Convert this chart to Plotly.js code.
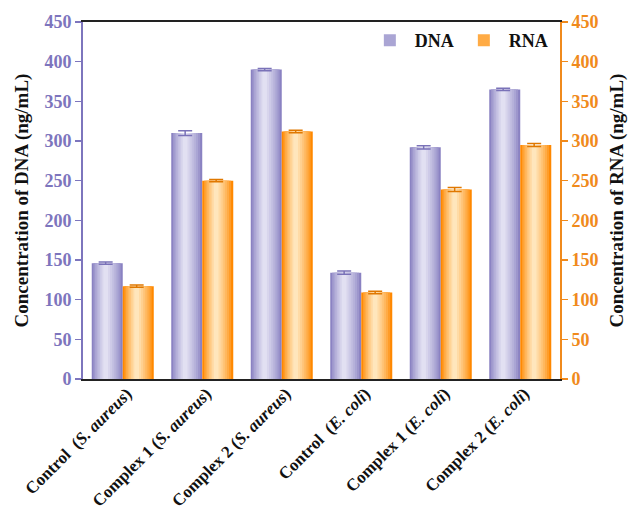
<!DOCTYPE html>
<html>
<head>
<meta charset="utf-8">
<script src="https://cdn.plot.ly/plotly-3.0.1.min.js"></script>
<style>html,body{margin:0;padding:0;background:#fff;}#chart{width:628px;height:513px;}</style>
</head>
<body>
<div id="chart"></div>
<script>
const categories = [
  "Control  (<i>S. aureus</i>)",
  "Complex 1 (<i>S. aureus</i>)",
  "Complex 2 (<i>S. aureus</i>)",
  "Control  (<i>E. coli</i>)",
  "Complex 1 (<i>E. coli</i>)",
  "Complex 2 (<i>E. coli</i>)"
];
const dnaValues = [146, 310, 390, 134, 292, 365];
const dnaErrors = [1.5, 3, 1.5, 2, 2, 1.5];
const rnaValues = [117, 250, 312, 109, 239, 295];
const rnaErrors = [1.5, 1.5, 1.5, 1.5, 2.5, 2];
const yTicks = [0, 50, 100, 150, 200, 250, 300, 350, 400, 450];

const xIdx = categories.map((_, i) => i);
const BAR_W = 0.39;
const N = 8;

function mix(a, b, t) {
  const pa = a.match(/\w\w/g).map(h => parseInt(h, 16));
  const pb = b.match(/\w\w/g).map(h => parseInt(h, 16));
  return 'rgb(' + pa.map((v, i) => Math.round(v + (pb[i] - v) * t)).join(',') + ')';
}

function layers(name, values, errors, yaxis, centerOff, edge, center, errColor) {
  const out = [];
  for (let k = 0; k < N; k++) {
    const w = BAR_W * (1 - 0.85 * k / (N - 1));
    const tr = {
      type: 'bar',
      x: xIdx,
      y: values,
      yaxis: yaxis,
      width: w,
      offset: centerOff - w / 2 - 0.02 * k / (N - 1),
      marker: {color: mix(edge, center, Math.pow(k / (N - 1), 0.8)), line: {width: 0}},
      name: name,
      showlegend: k === 2,
      legendgroup: name,
      hoverinfo: 'y'
    };
    if (k === N - 1) {
      tr.error_y = {type: 'data', array: errors, visible: true, color: errColor, thickness: 1.5, width: 7};
    }
    out.push(tr);
  }
  return out;
}

const data = [].concat(
  layers('DNA', dnaValues, dnaErrors, 'y', -BAR_W / 2, '8a82c2', 'e2e0f2', '#7a72b8'),
  layers('RNA', rnaValues, rnaErrors, 'y2', BAR_W / 2, 'ff8800', 'ffe6bc', '#e07800')
);

const serif = 'Liberation Serif, Times New Roman, serif';
const layout = {
  width: 628, height: 513,
  margin: {l: 83, r: 68, t: 22, b: 134},
  paper_bgcolor: '#fff', plot_bgcolor: '#fff',
  barmode: 'overlay',
  showlegend: true,
  legend: {
    orientation: 'h', x: 0.985, xanchor: 'right', y: 1.0, yanchor: 'top',
    font: {family: serif, size: 18, color: '#111', weight: 'bold'},
    bgcolor: 'rgba(0,0,0,0)', itemwidth: 40, traceorder: 'normal'
  },
  xaxis: {
    range: [-0.5, 5.5],
    tickvals: xIdx, ticktext: categories,
    tickangle: -45,
    tickfont: {family: serif, size: 17, color: '#111', weight: 'bold'},
    ticklabelstandoff: -4, ticklabelshift: 4,
    showline: true, linecolor: '#222', linewidth: 2, mirror: true,
    ticks: '', showgrid: false, zeroline: false
  },
  yaxis: {
    range: [0, 450], tickvals: yTicks,
    ticks: 'outside', ticklen: 6, tickwidth: 1.5, tickcolor: '#7d75bd',
    tickfont: {family: serif, size: 18, color: '#7d75bd', weight: 'bold'},
    showline: true, linecolor: '#7d75bd', linewidth: 2,
    showgrid: false, zeroline: false,
    title: {text: 'Concentration of DNA (ng/mL)', font: {family: serif, size: 19, color: '#111', weight: 'bold'}, standoff: 11}
  },
  yaxis2: {
    range: [0, 450], tickvals: yTicks,
    overlaying: 'y', side: 'right',
    ticks: 'outside', ticklen: 6, tickwidth: 1.5, tickcolor: '#f08a1c',
    tickfont: {family: serif, size: 18, color: '#f08a1c', weight: 'bold'},
    showline: true, linecolor: '#f08a1c', linewidth: 2,
    showgrid: false, zeroline: false,
    title: {text: 'Concentration of RNA (ng/mL)', font: {family: serif, size: 19, color: '#111', weight: 'bold'}, standoff: 12}
  }
};

Plotly.newPlot('chart', data, layout, {displayModeBar: false, staticPlot: true});
</script>
</body>
</html>
